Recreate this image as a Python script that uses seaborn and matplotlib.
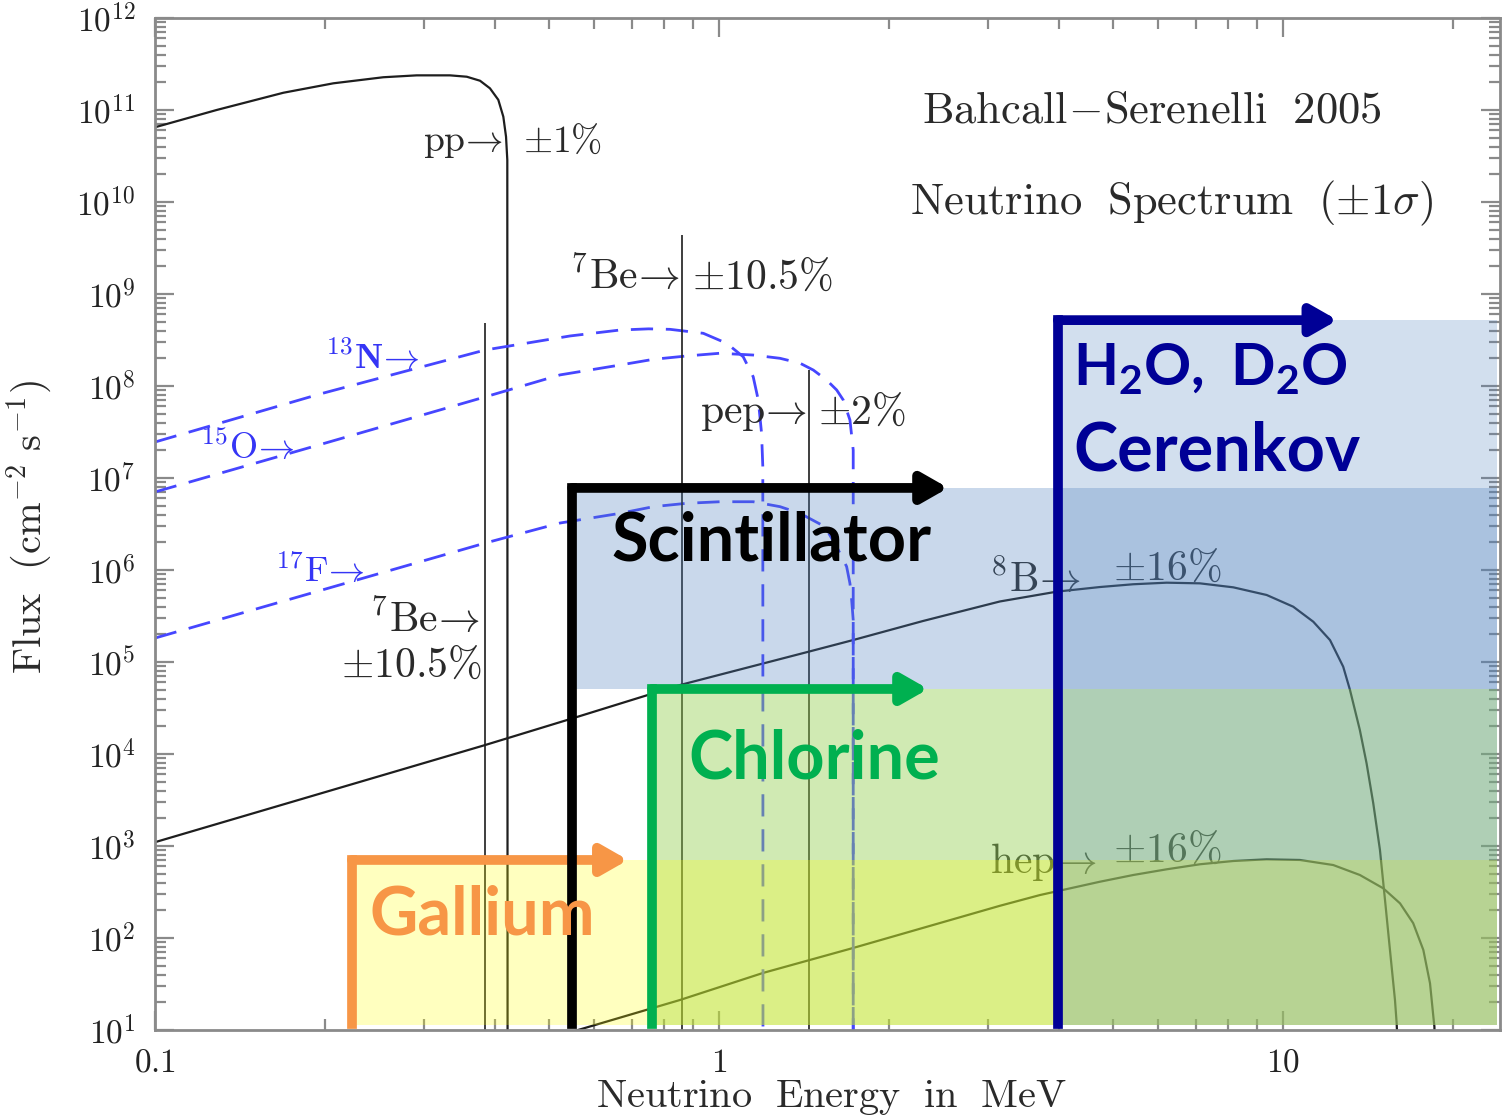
import numpy as np
import matplotlib
matplotlib.use("Agg")
import matplotlib.pyplot as plt
import seaborn as sns
from matplotlib.patches import FancyArrowPatch
from matplotlib.ticker import LogLocator, FuncFormatter, NullFormatter, FixedLocator

# ---------------- data ----------------
# pp continuum
pp_energy = [0.100, 0.1286, 0.1689, 0.2071, 0.2540, 0.2911, 0.3334, 0.3571, 0.3770, 0.3926,
             0.4062, 0.4146, 0.4192, 0.4214, 0.4219]
pp_flux = [6.49e10, 1.0e11, 1.54e11, 1.95e11, 2.27e11, 2.38e11, 2.38e11, 2.30e11, 2.08e11, 1.72e11,
           1.29e11, 8.46e10, 5.13e10, 2.86e10, 1.0]

# 8B continuum
b8_energy = [0.100, 0.3847, 0.5511, 0.853, 1.432, 1.728, 2.30, 3.149, 3.975, 4.737, 5.428, 6.22,
             7.126, 8.166, 9.357, 10.43, 11.32, 12.12, 12.79, 13.15, 13.69, 14.07, 14.46, 14.86,
             15.17, 15.48, 15.80, 15.91, 16.0]
b8_flux = [1.10e3, 1.25e4, 2.45e4, 5.62e4, 1.28e5, 1.73e5, 2.79e5, 4.55e5, 5.82e5, 6.53e5, 7.0e5, 7.28e5,
           7.16e5, 6.48e5, 5.35e5, 3.99e5, 2.74e5, 1.73e5, 8.89e4, 4.96e4, 1.82e4, 7.93e3, 2.91e3, 906,
           259, 74.1, 21.2, 11.8, 5.0]

# hep continuum
hep_energy = [0.55, 0.853, 1.197, 1.728, 3.149, 3.708, 4.737, 5.428, 6.22, 7.126, 8.166, 9.357,
              10.72, 12.28, 13.69, 15.06, 16.13, 17.02, 17.74, 18.23, 18.48, 18.56, 18.62]
hep_flux = [9.6, 21.2, 41.7, 77.8, 224, 293, 409, 484, 558, 633, 687, 717,
            705, 621, 484, 347, 238, 145, 74.1, 32.2, 14.0, 10.9, 5.0]

# CNO continua (dashed)
n13_energy = [0.100, 0.1963, 0.3847, 0.5447, 0.6676, 0.75, 0.8187, 0.938, 1.032, 1.104, 1.150,
              1.174, 1.190, 1.196, 1.197]
n13_flux = [2.46e7, 8.2e7, 2.46e8, 3.5e8, 4.06e8, 4.18e8, 4.13e8, 3.74e8, 2.91e8, 2.08e8, 1.26e8,
            7.05e7, 3.06e7, 1.33e7, 1.0]

o15_energy = [0.100, 0.1963, 0.3847, 0.5226, 0.6676, 0.7650, 0.8766, 1.004, 1.150, 1.283, 1.392,
              1.470, 1.552, 1.617, 1.661, 1.707, 1.730, 1.730]
o15_flux = [7.05e6, 2.31e7, 7.6e7, 1.32e8, 1.69e8, 1.95e8, 2.12e8, 2.27e8, 2.17e8, 2.0e8, 1.77e8,
            1.49e8, 1.16e8, 9.05e7, 7.05e7, 4.27e7, 2.01e7, 1.0]

f17_energy = [0.100, 0.1963, 0.3847, 0.5226, 0.6676, 0.7650, 0.8766, 1.004, 1.150, 1.283, 1.392,
              1.541, 1.617, 1.684, 1.707, 1.719, 1.730, 1.730]
f17_flux = [1.82e5, 5.98e5, 1.96e6, 3.24e6, 4.13e6, 4.88e6, 5.31e6, 5.52e6, 5.52e6, 4.88e6, 4.13e6,
            2.96e6, 1.79e6, 1.09e6, 7.16e5, 4.72e5, 2.86e5, 1.0]

# line spectra (7Be 0.384, 7Be 0.862, pep)
line_energy = [0.3847, 0.860, 1.444]
line_flux = [4.84e8, 4.38e9, 1.49e8]

# detector sensitivity bands
det_names = ["Gallium", "Chlorine", "Scintillator", "Cerenkov"]
det_threshold = [0.2234, 0.7605, 0.549, 3.99]
det_top = [705.0, 5.09e4, 7.8e6, 5.2e8]
det_bottom = [11.3, 11.3, 5.09e4, 11.3]
det_arrow_tip = [0.69, 2.35, 2.55, 12.5]
det_line_color = ["#F79646", "#00B050", "#000000", "#000096"]
det_fill_color = ["#FFFF00", "#92D050", "#4F81BD", "#4F81BD"]
det_fill_alpha = [0.25, 0.43, 0.30, 0.25]
det_draw_order = [1, 2, 0, 3]

x_ticks = [0.1, 1, 10]
x_tick_labels = ["0.1", "1", "10"]
y_exponents = list(range(1, 13))

# ---------------- style ----------------
sns.set_theme(style="ticks")
plt.rcParams.update({
    "font.family": ["DejaVu Serif"],
    "mathtext.fontset": "cm",
    "mathtext.rm": "Lato:bold",
    "mathtext.it": "Lato:bold",
    "mathtext.bf": "Lato:bold",
    "axes.edgecolor": "#8a8a8a",
    "axes.linewidth": 2.0,
    "xtick.color": "#8a8a8a",
    "ytick.color": "#8a8a8a",
    "xtick.labelcolor": "#222222",
    "ytick.labelcolor": "#222222",
})

fig = plt.figure(figsize=(15.04, 11.17), dpi=100)
ax = fig.add_axes([155 / 1504, 1 - 1030 / 1117, 1345 / 1504, 1012 / 1117])
ax.set_xscale("log")
ax.set_yscale("log")
ax.set_facecolor("white")

txt = "#2a2a2a"
cont_color = "#1e1e1e"
blue = "#4646FF"

# continua
for E, F in [(pp_energy, pp_flux), (b8_energy, b8_flux), (hep_energy, hep_flux)]:
    sns.lineplot(x=E, y=F, ax=ax, estimator=None, sort=False, color=cont_color,
                 lw=1.6, legend=False, zorder=2)
for E, F in [(n13_energy, n13_flux), (o15_energy, o15_flux), (f17_energy, f17_flux)]:
    sns.lineplot(x=E, y=F, ax=ax, estimator=None, sort=False, color=blue,
                 lw=2.0, linestyle=(0, (8, 4.6)), legend=False, zorder=2)

# line sources
ax.vlines(line_energy, 1.0, line_flux, colors=cont_color, lw=1.2, zorder=2)

ax.set_xlim(0.1, 24.26)
ax.set_ylim(10, 1e12)

# annotations (Computer Modern look)
ann = dict(color=txt, fontsize=30, zorder=2.5, math_fontfamily="cm")
ax.text(0.414, 4.5e10, r"$\mathrm{pp}\!\rightarrow$", ha="right", va="center", **dict(ann, fontsize=27))
ax.text(0.449, 4.5e10, r"$\pm1\%$", ha="left", va="center", **dict(ann, fontsize=27))
ax.text(0.853, 1.53e9, r"$^7\mathrm{Be}\!\rightarrow$", ha="right", va="center", **ann)
ax.text(0.8955, 1.53e9, r"$\pm10.5\%$", ha="left", va="center", **ann)
ax.text(1.432, 5.2e7, r"$\mathrm{pep}\!\rightarrow$", ha="right", va="center", **ann)
ax.text(1.498, 5.2e7, r"$\pm2\%$", ha="left", va="center", **ann)
ax.text(0.377, 2.86e5, r"$^7\mathrm{Be}\!\rightarrow$", ha="right", va="center", **ann)
ax.text(0.379, 9.27e4, r"$\pm10.5\%$", ha="right", va="center", **ann)
ax.text(3.023, 7.78e5, r"$^8\mathrm{B}\!\rightarrow$", ha="left", va="center", **ann)
ax.text(4.995, 1.05e6, r"$\pm16\%$", ha="left", va="center", **ann)
ax.text(3.023, 670, r"$\mathrm{hep}\!\rightarrow$", ha="left", va="center", **ann)
ax.text(4.995, 906, r"$\pm16\%$", ha="left", va="center", **ann)
ax.text(2.291, 1.0e11, r"$\mathrm{Bahcall\!-\!Serenelli\ \ 2005}$", ha="left", va="center",
        color=txt, fontsize=32, zorder=2.5, math_fontfamily="cm")
ax.text(2.18, 9.75e9, r"$\mathrm{Neutrino\ \ Spectrum\ \ (\pm1\sigma)}$", ha="left", va="center",
        color=txt, fontsize=32, zorder=2.5, math_fontfamily="cm")

bann = dict(color="#3535F5", fontsize=26, zorder=2.5, math_fontfamily="cm", ha="left", va="center")
ax.text(0.2001, 2.01e8, r"$^{13}\mathbf{N}\!\rightarrow$", **bann)
ax.text(0.1202, 2.12e7, r"$^{15}\mathrm{O}\!\rightarrow$", **bann)
ax.text(0.1632, 9.5e5, r"$^{17}\mathrm{F}\!\rightarrow$", **bann)

# detector bands
for i in det_draw_order:
    ax.fill_between([det_threshold[i], 24.0], det_bottom[i], det_top[i],
                    color=det_fill_color[i], alpha=det_fill_alpha[i], lw=0, zorder=3)

for i in range(len(det_names)):
    c = det_line_color[i]
    ax.plot([det_threshold[i], det_threshold[i]], [11.5, det_top[i]], color=c, lw=7,
            solid_capstyle="projecting", zorder=5)
    ax.add_patch(FancyArrowPatch((det_threshold[i], det_top[i]), (det_arrow_tip[i], det_top[i]),
                                 arrowstyle="-|>,head_length=0.7,head_width=0.4", color=c, lw=7,
                                 shrinkA=0, shrinkB=0, mutation_scale=22, zorder=5))

lab = dict(fontsize=48, fontweight="bold", family=["Lato", "DejaVu Sans"], ha="left", va="baseline", zorder=6)
ax.text(0.2405, 108, "Gallium", color=det_line_color[0], **lab)
ax.text(0.881, 5.48e3, "Chlorine", color=det_line_color[1], **lab)
ax.text(0.646, 1.28e6, "Scintillator", color=det_line_color[2], **lab)
ax.text(4.243, 1.22e7, "Cerenkov", color=det_line_color[3], **lab)
ax.text(4.243, 1.03e8, r"$\mathrm{H_2O,\ D_2O}$", color=det_line_color[3], fontsize=42,
        math_fontfamily="custom", ha="left", va="baseline", zorder=6)

# axes, ticks
ax.xaxis.set_major_locator(FixedLocator(x_ticks))
ax.xaxis.set_major_formatter(FuncFormatter(lambda v, p: r"$%s$" % x_tick_labels[x_ticks.index(v)] if v in x_ticks else ""))
ax.xaxis.set_minor_locator(LogLocator(base=10, subs=np.arange(2, 10)))
ax.xaxis.set_minor_formatter(NullFormatter())
ax.yaxis.set_major_locator(FixedLocator([10.0 ** k for k in y_exponents]))
ax.yaxis.set_major_formatter(FuncFormatter(lambda v, p: r"$10^{%d}$" % int(round(np.log10(v)))))
ax.yaxis.set_minor_locator(LogLocator(base=10, subs=np.arange(2, 10), numticks=20))
ax.yaxis.set_minor_formatter(NullFormatter())
ax.tick_params(which="both", direction="in", top=True, right=True, width=1.6)
ax.tick_params(which="major", length=14, labelsize=24)
ax.tick_params(which="minor", length=8)
ax.tick_params(axis="y", which="major", pad=14)
ax.tick_params(axis="x", which="major", pad=12)

ax.set_xlabel(r"$\mathrm{Neutrino\ \ Energy\ \ in\ \ MeV}$", fontsize=29, color=txt, math_fontfamily="cm")
ax.set_ylabel(r"$\mathrm{Flux\ \ (cm^{-2}\ s^{-1})}$", fontsize=29, color=txt, math_fontfamily="cm")
ax.xaxis.set_label_coords(0.5026, -0.047)
ax.yaxis.set_label_coords(-0.074, 0.497)

fig.savefig("out.png", dpi=100, facecolor="white")
